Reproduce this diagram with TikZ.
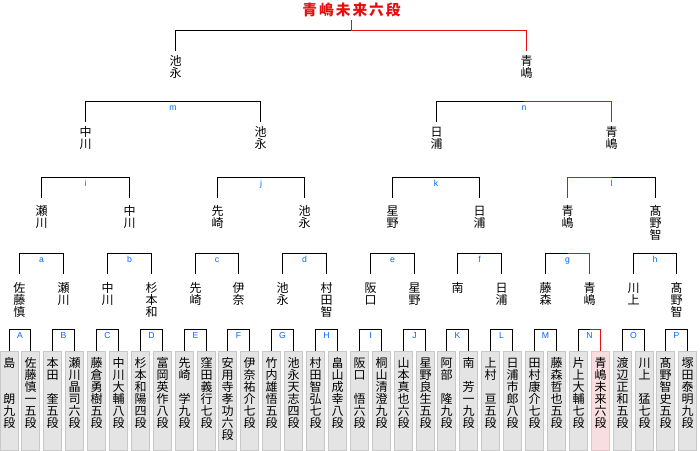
\documentclass[tikz,border=0pt]{standalone}
\usepackage{fontspec}
\setmainfont{Noto Sans CJK JP}
\newfontfamily\latinfont{Liberation Sans}
\usetikzlibrary{calc}

\definecolor{winred}{RGB}{228,16,16}
\definecolor{letterblue}{RGB}{0,102,255}
\definecolor{boxgray}{RGB}{228,228,228}
\definecolor{boxedge}{RGB}{200,200,200}
\definecolor{champfill}{RGB}{248,222,222}
\definecolor{champedge}{RGB}{226,196,196}

% names are written top to bottom, one character per line
\makeatletter
\newcommand\vstack[1]{\vtop{\hsize=9pt\baselineskip=9pt\lineskiplimit=-\maxdimen
  \@tfor\vch:=#1\do{\hbox to 9pt{\hss\vrule height 7.5pt depth 1.5pt width 0pt\vch\hss}}}}
\makeatother
\newcommand\vname[1]{\edef\vtmp{#1}\expandafter\vstack\expandafter{\vtmp}}

\begin{document}
\begin{tikzpicture}[x=0.75pt, y=-0.75pt, line width=0.75pt,
  every node/.style={font=\fontsize{9pt}{9pt}\selectfont},
  player/.style={draw=boxedge, fill=boxgray, anchor=north, minimum width=13.5pt,
    inner xsep=0pt, inner ysep=4.5pt, text height=7.5pt, text depth=57.75pt},
  champ/.style={player, draw=champedge, fill=champfill},
  wname/.style={anchor=north, inner xsep=0pt, inner ysep=#1},
  mlabel/.style={font=\latinfont\fontsize{6.5pt}{6.5pt}\selectfont, text=letterblue,
    anchor=base, yshift=-7.05pt, inner sep=0pt},
  champtitle/.style={font=\fontsize{11pt}{11pt}\selectfont\bfseries\addfontfeature{LetterSpace=14},
    text=winred, inner xsep=0pt, inner ysep=2pt}]

\def\xstep{21.9}

\useasboundingbox (0,0) rectangle (700,450);

% ROUND 1
%player boxes
\foreach \nm [count=\i from 0] in {島　　朗九段, 佐藤慎一五段, 本田　奎五段, 瀬川晶司六段,
    藤倉勇樹五段, 中川大輔八段, 杉本和陽四段, 富岡英作八段, 先崎　学九段, 窪田義行七段,
    安用寺孝功六段, 伊奈祐介七段, 竹内雄悟五段, 池永天志四段, 村田智弘七段, 畠山成幸八段,
    阪口　悟六段, 桐山清澄九段, 山本真也六段, 星野良生五段, 阿部　隆九段, 南　芳一九段,
    上村　亘五段, 日浦市郎八段, 田村康介七段, 藤森哲也五段, 片上大輔七段, 青嶋未来六段,
    渡辺正和五段, 川上　猛七段, 髙野智史五段, 塚田泰明九段} {
  \def\bx{player}
  \ifnum\i=27 \def\bx{champ}\fi
  \node[style=\bx] (p\i) at ({floor(9+\xstep*\i)+0.5},350.5) {\vname{\nm}};
}

%brackets A to P
\foreach \lt [count=\k from 0] in {A,B,C,D,E,F,G,H,I,J,K,L,M,N,O,P} {
  \pgfmathtruncatemacro\ia{2*\k}
  \pgfmathtruncatemacro\ib{2*\k+1}
  \draw (p\ia.north) -- ++(0,-21) -| node[mlabel, pos=.25] (l\lt) {\lt} (p\ib.north);
}

% ROUND 2
\foreach \nm [count=\k from 0] in {佐藤慎, 瀬川, 中川, 杉本和, 先崎, 伊奈, 池永, 村田智,
    阪口, 星野, 南, 日浦, 藤森, 青嶋, 川上, 髙野智}
  \node[wname=6.3pt] (w1-\k) at ({floor(9+\xstep*(2*\k+0.5))+0.5},273.5) {\vname{\nm}};

\foreach \lt [count=\k from 0] in {a,b,c,d,e,f,g,h} {
  \pgfmathtruncatemacro\ia{2*\k}
  \pgfmathtruncatemacro\ib{2*\k+1}
  \draw (w1-\ia.north) -- ++(0,-20) -| node[mlabel, pos=.25] (l\lt) {\lt} (w1-\ib.north);
}

% ROUND 3
\foreach \nm [count=\k from 0] in {瀬川, 中川, 先崎, 池永, 星野, 日浦, 青嶋, 髙野智}
  \node[wname=5.8pt] (w2-\k) at ({floor(9+\xstep*(4*\k+1.5))+0.5},197.5) {\vname{\nm}};

\foreach \lt [count=\k from 0] in {i,j,k,l} {
  \pgfmathtruncatemacro\ia{2*\k}
  \pgfmathtruncatemacro\ib{2*\k+1}
  \draw (w2-\ia.north) -- ++(0,-20) -| node[mlabel, pos=.25] (l\lt) {\lt} (w2-\ib.north);
}

% ROUND 4
\foreach \nm [count=\k from 0] in {中川, 池永, 日浦, 青嶋}
  \node[wname=3pt] (w3-\k) at ({floor(9+\xstep*(8*\k+3.5))+0.5},121.5) {\vname{\nm}};

\foreach \lt [count=\k from 0] in {m,n} {
  \pgfmathtruncatemacro\ia{2*\k}
  \pgfmathtruncatemacro\ib{2*\k+1}
  \draw (w3-\ia.north) -- ++(0,-20) -| node[mlabel, pos=.25] (l\lt) {\lt} (w3-\ib.north);
}

% FINAL
\node[wname=3.4pt] (w4-0) at (175.5,50.5) {\vname{池永}};
\node[wname=3.4pt] (w4-1) at (526.5,50.5) {\vname{青嶋}};
\draw (w4-0.north) -- ++(0,-20) coordinate (fin) -| (w4-1.north);

\node[champtitle] (title) at (351.5,10) {青嶋未来六段};

%winner path (red halves of the brackets)
\draw[winred] ($(p26.north)!.5!(p27.north)+(0,-21)$) -| (p27.north);
\draw[winred] ($(w1-12.north)!.5!(w1-13.north)+(0,-20)$) -| (w1-13.north);
\draw[winred] ($(w2-6.north)!.5!(w2-7.north)+(0,-20)$) -| (w2-6.north);
\draw[winred] ($(w3-2.north)!.5!(w3-3.north)+(0,-20)$) -| (w3-3.north);
\draw[winred] (title.south) -- (title.south |- fin) -| (w4-1.north);

\end{tikzpicture}
\end{document}
